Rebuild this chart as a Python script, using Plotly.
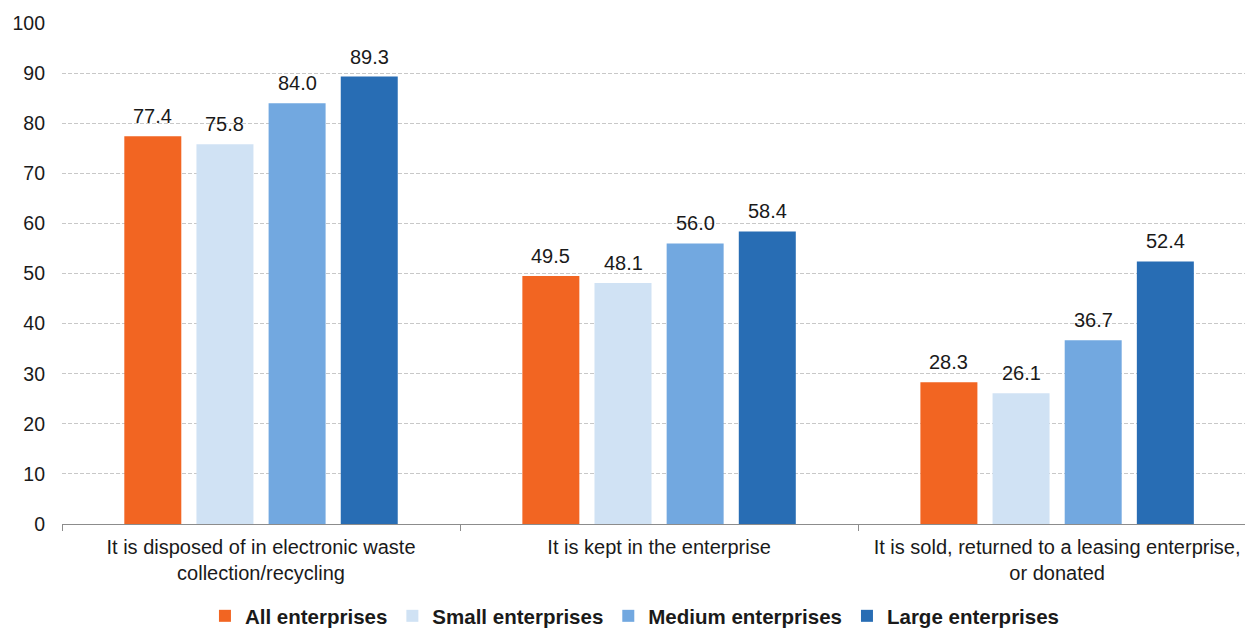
import plotly.graph_objects as go

categories = [
    "It is disposed of in electronic waste<br>collection/recycling",
    "It is kept in the enterprise",
    "It is sold, returned to a leasing enterprise,<br>or donated",
]
series_names = ["All enterprises", "Small enterprises", "Medium enterprises", "Large enterprises"]
all_enterprises = [77.4, 49.5, 28.3]
small_enterprises = [75.8, 48.1, 26.1]
medium_enterprises = [84.0, 56.0, 36.7]
large_enterprises = [89.3, 58.4, 52.4]
y_ticks = [0, 10, 20, 30, 40, 50, 60, 70, 80, 90, 100]

series_values = [all_enterprises, small_enterprises, medium_enterprises, large_enterprises]
colors = ["#F26522", "#D0E2F4", "#72A8E0", "#286DB4"]

FONT = "Liberation Sans, Arial, sans-serif"
BARGAP = 0.275
BARGROUPGAP = 0.21

fig = go.Figure()
for name, vals, col in zip(series_names, series_values, colors):
    fig.add_trace(go.Bar(
        name=name,
        x=categories,
        y=vals,
        marker=dict(color=col, line=dict(width=0)),
    ))

# value labels above each bar, placed at the centre of each grouped bar slot
n_series = len(series_values)
slot = (1 - BARGAP) / n_series
for k, vals in enumerate(series_values):
    for i, v in enumerate(vals):
        fig.add_annotation(
            x=i + (k - (n_series - 1) / 2) * slot,
            y=v,
            xref="x",
            yref="y",
            text=f"{v:.1f}",
            showarrow=False,
            yanchor="bottom",
            yshift=7,
            font=dict(family=FONT, size=20, color="#1a1a1a"),
        )

fig.update_layout(
    width=1245,
    height=630,
    margin=dict(l=62, r=0, t=23, b=106),
    paper_bgcolor="white",
    plot_bgcolor="white",
    barmode="group",
    bargap=BARGAP,
    bargroupgap=BARGROUPGAP,
    font=dict(family=FONT, size=20, color="#1a1a1a"),
    showlegend=True,
    legend=dict(
        orientation="h",
        xref="container",
        yref="container",
        x=0.51,
        xanchor="center",
        y=14 / 630,
        yanchor="middle",
        font=dict(family=FONT, size=20.5, color="#1a1a1a", weight="bold"),
        itemwidth=30,
        traceorder="normal",
    ),
)

fig.update_xaxes(
    type="category",
    range=[-0.5, 2.472],
    showline=True,
    linecolor="#8c8c8c",
    linewidth=1,
    ticks="outside",
    tickson="boundaries",
    ticklen=6,
    tickcolor="#8c8c8c",
    showgrid=False,
    tickfont=dict(family=FONT, size=20, color="#1a1a1a"),
    ticklabelstandoff=5,
)

fig.update_yaxes(
    range=[0, 100],
    tickvals=y_ticks,
    showline=False,
    showgrid=True,
    gridcolor="#c8c8c8",
    griddash="4px,2px",
    gridwidth=1,
    zeroline=False,
    ticks="",
    tickfont=dict(family=FONT, size=19.5, color="#1a1a1a"),
    ticklabelstandoff=16,
)

fig.write_html("out.html")
